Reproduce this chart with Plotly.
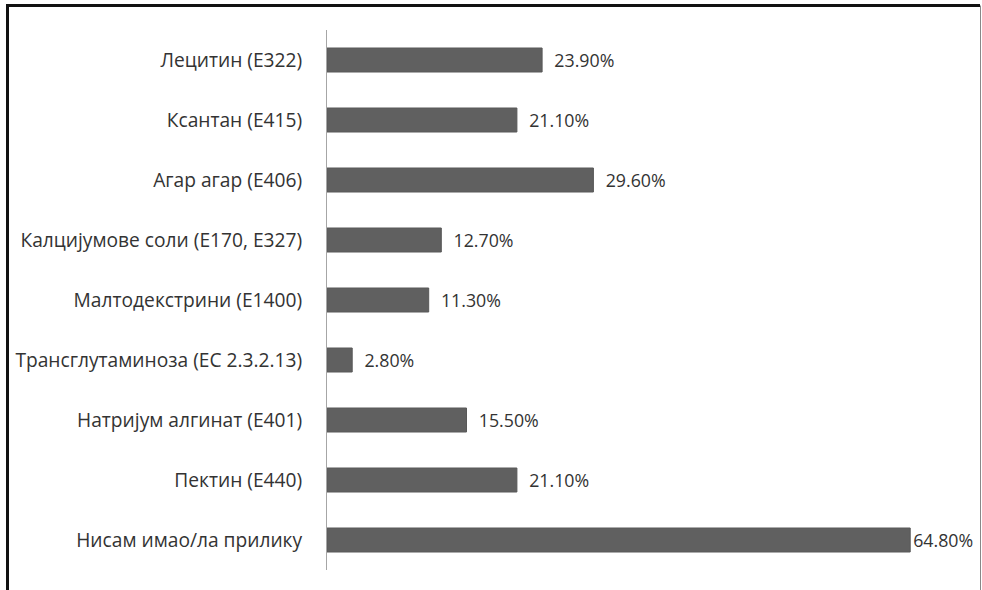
import plotly.graph_objects as go

categories = [
    "Лецитин (E322)",
    "Ксантан (E415)",
    "Агар агар (E406)",
    "Калцијумове соли (E170, E327)",
    "Малтодекстрини (E1400)",
    "Трансглутаминоза (EC 2.3.2.13)",
    "Натријум алгинат (E401)",
    "Пектин (E440)",
    "Нисам имао/ла прилику",
]
values = [23.9, 21.1, 29.6, 12.7, 11.3, 2.8, 15.5, 21.1, 64.8]
value_labels = ["%.2f%%" % v for v in values]

FONT = "Open Sans"
TXT = "#333333"
FS = 19.2
FSV = 20

fig = go.Figure()
fig.add_trace(go.Bar(
    y=categories, x=values, orientation="h",
    marker=dict(color="#606060", line=dict(color="#585858", width=1)),
    text=["  " + t if v < 60 else t for t, v in zip(value_labels, values)],
    textposition="outside", cliponaxis=False,
    textfont=dict(family=FONT, size=FSV, color=TXT),
    width=0.4,
))

W, H = 982, 590
l, r, t, b = 327, 25, 30, 20
pw, ph = W - l - r, H - t - b

def px(xp):
    return (xp - l) / pw

def py(yp):
    return (H - b - yp) / ph

shapes = [
    dict(type="line", xref="paper", yref="paper", x0=px(7.5), x1=px(7.5), y0=py(5.5), y1=py(600),
         line=dict(color="#111111", width=3)),
    dict(type="line", xref="paper", yref="paper", x0=px(6), x1=px(980), y0=py(5.5), y1=py(5.5),
         line=dict(color="#111111", width=3)),
    dict(type="line", xref="paper", yref="paper", x0=px(980.5), x1=px(980.5), y0=py(5.5), y1=py(600),
         line=dict(color="#888888", width=1)),
]

fig.update_layout(
    width=W, height=H,
    margin=dict(l=l, r=r, t=t, b=b, pad=0),
    plot_bgcolor="white", paper_bgcolor="white",
    showlegend=False, bargap=0.6,
    font=dict(family=FONT, size=FS, color=TXT),
    shapes=shapes,
    xaxis=dict(range=[0, 70], visible=False, showgrid=False, zeroline=False),
    yaxis=dict(autorange="reversed", showgrid=False, zeroline=False,
               showline=True, linecolor="#a6a6a6", linewidth=1,
               ticks="", ticklabelstandoff=20,
               tickfont=dict(family=FONT, size=FS, color=TXT)),
)

fig.write_html("out.html")
